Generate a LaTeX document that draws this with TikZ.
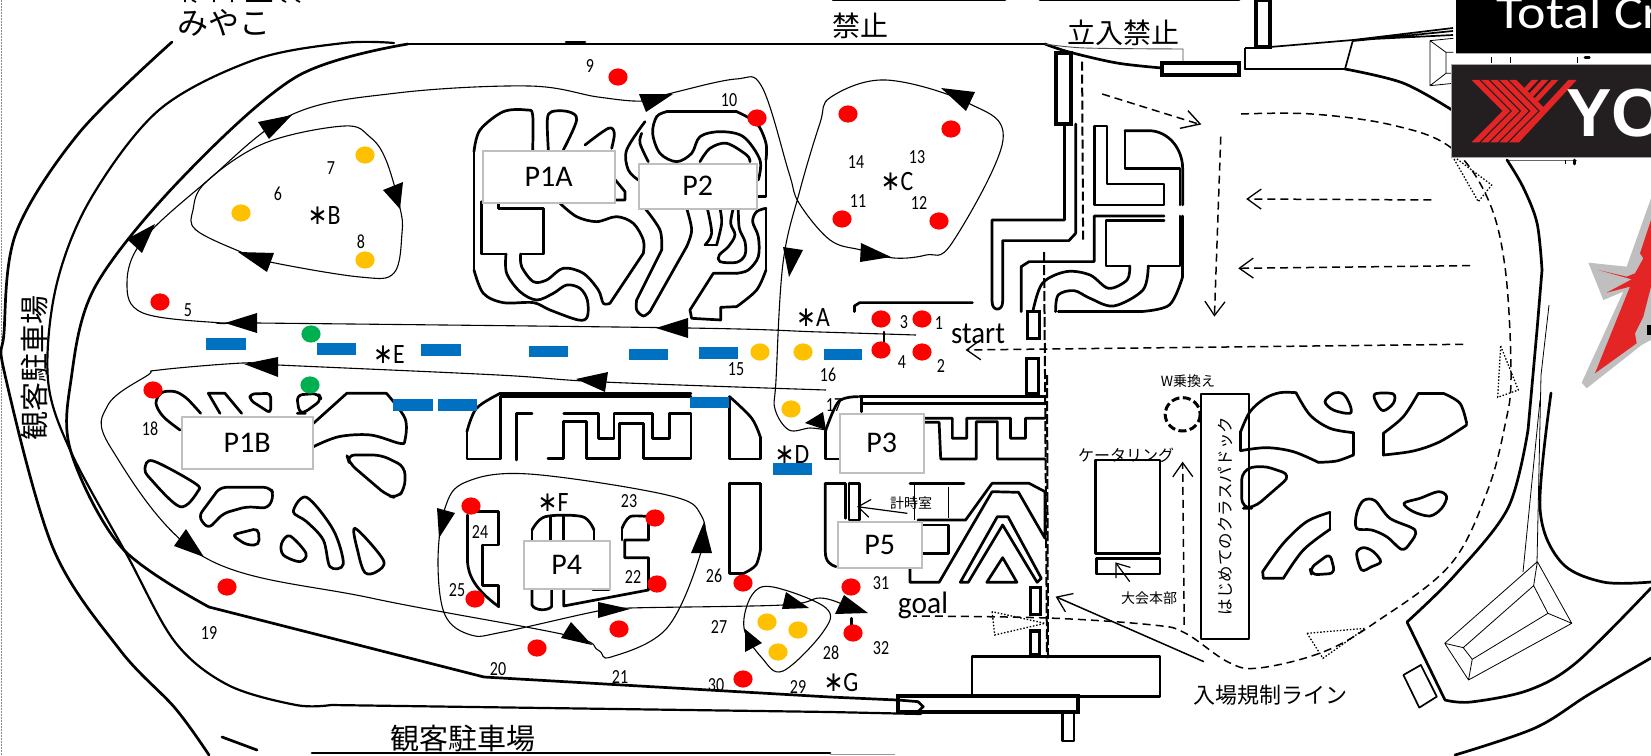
\documentclass[tikz,border=0pt]{standalone}
\usepackage{graphicx}
\usepackage{fontspec}
\setmainfont{Carlito}
\newfontfamily\jp{Noto Sans CJK JP}
\newfontfamily\ls{Liberation Sans}
\newfontfamily\dv{DejaVu Sans}
\usetikzlibrary{arrows.meta}
\definecolor{redd}{HTML}{FF0000}
\definecolor{yel}{HTML}{FFC000}
\definecolor{grn}{HTML}{00B050}
\definecolor{blu}{HTML}{0070C0}
\definecolor{logored}{HTML}{E42525}
\definecolor{logodark}{HTML}{231F20}
\tikzset{
 zA/.style={x=0.5294pt,y=-0.3333pt},
 zB/.style={shift={(820,0)},x=0.5294pt,y=-0.3333pt},
 zC/.style={shift={(0,375)},x=0.5294pt,y=-0.3333pt},
 zD/.style={shift={(820,375)},x=0.5294pt,y=-0.3333pt},
 zE/.style={shift={(1420,0)},x=0.3333pt,y=-0.3333pt},
 zF/.style={shift={(1450,190)},x=0.3333pt,y=-0.3333pt},
 zG/.style={shift={(470,100)},x=0.3333pt,y=-0.3333pt},
 zH/.style={shift={(100,380)},x=0.3333pt,y=-0.3333pt},
 zI/.style={shift={(1200,380)},x=0.3333pt,y=-0.3333pt},
 trk/.style={line width=2.7pt,line join=round,line cap=round,black},
 hvy/.style={line width=3.2pt,line join=miter,black},
 med/.style={line width=1.7pt,line join=round,black},
 thn/.style={line width=0.8pt,line join=round,black},
 flow/.style={line width=1.1pt,black},
 dsh/.style={line width=1.5pt,dash pattern=on 8pt off 5pt,black},
 barbhead/.style={-{Straight Barb[length=14pt,width=20pt,line width=1.3pt]}},
 dot/.style={line width=1.3pt,dash pattern=on 1.5pt off 1.8pt,black},
 pbox/.style={draw=black!25,line width=1.5pt,fill=white},
}
\newcommand\tr[1]{\draw[trk] plot[smooth,tension=.55] coordinates {#1};}
\newcommand\trc[1]{\draw[trk] plot[smooth cycle,tension=.55] coordinates {#1};}
\newcommand\fl[1]{\draw[flow] plot[smooth,tension=.6] coordinates {#1};}
\newcounter{lc}
\newcommand\lb[3]{\stepcounter{lc}\node[inner sep=0pt] (l\thelc) at (#1,#2) {#3};}
\newcommand\nm[3]{\lb{#1}{#2}{\scalebox{.8}[1]{\fontsize{20}{20}\selectfont #3}}}
\newcommand\stl[3]{\lb{#1}{#2}{\scalebox{.85}[1]{\fontsize{28}{28}\selectfont{\dv ∗}#3}}}
\newcommand\jt[4]{\lb{#1}{#2}{\fontsize{#3}{#3}\selectfont\jp #4}}
\newcommand\Dotm[3]{\fill[#1] (#2,#3) ellipse [x radius=9.6pt,y radius=8.6pt];}
\newcommand\bbar[4]{\fill[blu] (#1,#2) rectangle (#3,#4);}
\newcommand\tri[6]{\fill[black] (#1,#2)--(#3,#4)--(#5,#6)--cycle;}
\newcommand\pb[6]{\node[pbox,inner sep=0pt,anchor=north west,minimum width=#3pt-#1pt,minimum height=#4pt-#2pt] (#5) at (#1,#2) {\fontsize{30}{30}\selectfont #6};}
\begin{document}
\begin{tikzpicture}[x=1pt,y=-1pt]
\useasboundingbox (0,0) rectangle (1651,755);
\clip (0,0) rectangle (1651,755);
\fill[white] (0,0) rectangle (1651,755);
\draw[black!45,line width=.6pt,dash pattern=on 1.5pt off 1.5pt] (1,0)--(1,755);
% cut-off text at top edge
\draw[line width=1.6pt] (185,0)--(185,2) (192,0)--(196,2) (214,0)--(214,2) (232,0)--(232,2) (246,1)--(272,1) (282,0)--(286,2) (296,0)--(300,2);
% outer roads
\tr{(172,42)(79,133)(16,233)(4,333)(5,375)(53,548)(120,650)(175,708)(209,755)}
\draw[trk,line width=2.2pt] plot[smooth,tension=.55] coordinates {(394,43)(344,43)(254,60)(159,110)(90,200)(56,287)(48,380)(71,452)(127,555)(175,642)(228,685)(296,705)(331,705)} -- (830,712) -- (921,714);
\draw[trk] plot[smooth,tension=.55] coordinates {(408,44)(296,77)(180,180)(95,287)(71,380)(71,452)(122,548)(209,607)} -- (484,677) -- (830,697) -- (897,700);
\draw[trk] (408,44) -- (1045,44);
\tr{(1045,44)(1069,52)(1117,63)(1162,68)}
\draw[black!70,line width=.9pt] plot[smooth,tension=.5] coordinates {(1045,44)(1085,48)(1183,49)} -- (1183,63);
\draw[trk] (566,42)--(585,42);
\draw[trk] (833,0)--(1005,0) (1040,0)--(1239,0);
\draw[hvy] (1162,63) rectangle (1239,75);
\draw[hvy] (1056,53) rectangle (1071,124);
\draw[hvy] (1256,0) rectangle (1270,47);
\draw[med] (1270,47)--(1353,40)--(1453,28) (1353,40)--(1453,35) (1353,41)--(1453,31);
\draw[med] (1245,48)--(1270,48) (1245,48)--(1245,69);
\draw[trk] (1245,69)--(1345,69);
\draw[med] (1345,69)--(1353,40);
\tr{(1345,69)(1403,83)(1452,110)}
\draw[trk] (312,753)--(830,753);
\draw[black!40,line width=1pt] (830,754)--(895,754);
\draw[trk] (222,737)--(257,750);
\begin{scope}[zE]
\draw[thn] (30,122)--(100,115) (30,122)--(30,257)--(100,250) (30,122)--(78,157)--(78,220)--(30,257) (78,157)--(100,157) (78,220)--(100,220);
\draw[thn] (215,172)--(215,188) (272,172)--(272,188) (472,172)--(472,188);
\draw[trk] (495,172)--(508,172);
\draw[black!60,thin] (258,480)--(470,480);
\draw[thn] (435,480)--(435,492);
\draw[trk] (463,480)--(463,492);
\end{scope}
% right side lines
\tr{(1507,160)(1523,187)(1537,223)(1542,270)}
\draw[trk] (1542,270)--(1537,330)--(1528,430);
\tr{(1528,430)(1508,508)(1455,575)(1407,622)}
\draw[thn] (1549,305)--(1541,375)--(1537,562);
\draw[thn] (1540,400)--(1523,572);
\tr{(1551,393)(1540,508)(1561,562)(1603,582)(1651,582)}
\draw[trk] (1407,622)--(1445,700);
\tr{(1445,700)(1471,702)(1529,690)(1577,662)(1651,588)}
\tr{(1455,755)(1535,728)(1588,695)(1651,658)}
\begin{scope}[zD]
\draw[thn] (1355,560)--(1420,745)--(1225,915)--(1180,805)--cycle (1348,632)--(1375,715)--(1232,853)--(1215,818)--cycle (1355,560)--(1348,632) (1420,745)--(1375,715) (1225,915)--(1232,853) (1180,805)--(1215,818);
\draw[med] (1102,900)--(1135,870)--(1165,965)--(1132,998)--cycle;
\end{scope}
% dashed right curve
\draw[dsh] plot[smooth,tension=.6] coordinates {(1241,114)(1312,114)(1392,125)(1450,147)(1487,197)(1505,267)(1511,375)(1505,425)(1487,492)(1450,565)(1376,622)(1323,652)(1259,668)(1228,662)(1185,633)(1153,625)(1048,618)(913,616)};
\begin{scope}[zD]
\draw[dot] (325,710)--(330,780)--(425,745)--cycle (920,775)--(1030,760)--(950,850)--cycle;
\draw[dsh,barbhead] (688,750)--(685,260);
\draw[line width=1.5pt,barbhead] (725,860)--(445,665);
\draw[line width=1.2pt,-{Straight Barb[length=12pt,width=18pt,line width=1.2pt]}] (165,415)--(70,395);
\draw[line width=1.2pt,-{Straight Barb[length=12pt,width=18pt,line width=1.2pt]}] (585,620)--(558,562);
\end{scope}
\begin{scope}[zE]\draw[dot] (95,465)--(215,555)--(175,605)--cycle;\end{scope}
\begin{scope}[zF]\draw[dot] (152,468)--(205,600)--(143,622)--cycle;\end{scope}
% center right track
\begin{scope}[zB]
\draw[dsh] (533,282)--(715,372);
\draw[line width=1.4pt] (680,385)--(718,372)--(695,332);
\draw[dsh,barbhead] (1155,600)--(805,597);
\draw[dsh,barbhead] (1228,797)--(790,805);
\draw[dsh,barbhead] (757,410)--(745,950);
\draw[dsh,barbhead] (1215,1033)--(275,1050);
\draw[line width=2pt,dash pattern=on 9pt off 4pt] (495,185)--(497,730);
\draw[trk] (462,372)--(462,660)--(325,660)--(325,905) (483,372)--(483,700) (483,700)--(470,722)--(345,722)--(345,905);
\draw[trk] (325,905) .. controls (325,935) and (345,935) .. (345,905);
\draw[trk] (518,378)--(542,378)--(542,552)--(650,552)--(650,615)--(518,615)--cycle;
\draw[trk] (576,392)--(576,505)--(680,505)--(680,615);
\draw[trk] (576,392)--(620,392) .. controls (660,392) and (685,450) .. (685,505)--(685,615);
\draw[trk] (650,648)--(518,648)--(518,785)--(395,785)--(380,800)--(380,935);
\draw[trk] (650,662)--(540,662)--(540,798)--(585,798);
\tr{(585,798)(580,840)(545,865)(510,825)(465,815)(420,850)(402,935)}
\draw[trk] (680,648)--(680,798)--(620,798);
\tr{(620,798)(610,870)(555,918)(510,895)(480,872)(450,885)(445,935)}
\draw[trk] (685,648)--(685,830);
\tr{(685,830)(660,915)(605,935)}
\draw[trk] (605,935)--(450,935);
\draw[trk] (65,935)--(65,918)--(75,908)--(288,908);
\draw[hvy] (392,935) rectangle (415,1015);
\draw[hvy] (390,1140)--(390,1075)--(413,1075)--(413,1140);
\end{scope}
\begin{scope}[zD]
\draw[hvy] (390,0)--(390,55)--(413,55)--(413,0);
\end{scope}
\draw[line width=2pt,dash pattern=on 10pt off 3pt] (1044,252)--(1045,375)--(1047,658);
% P1A / P2 tracks
\begin{scope}[zG]
\tr{(188,150)(188,45)(170,30)(100,35)(30,90)(12,155)}
\draw[trk] (12,155)--(12,510);
\tr{(12,510)(40,580)(100,608)(190,608)(240,630)(325,660)(352,650)(352,600)(330,565)(290,555)(250,580)(200,600)(150,575)(110,520)(108,462)}
\draw[trk] (108,462)--(35,462)--(35,305) (85,305)--(85,325)--(220,325)--(220,462)--(152,462);
\tr{(152,462)(155,500)(190,545)(230,540)(280,505)(340,520)(385,570)(400,610)(420,610)}
\draw[trk] (420,610)--(520,460);
\tr{(520,460)(520,420)(490,370)(440,350)(380,365)(320,350)(270,310)}
\tr{(235,150)(232,60)(245,35)(295,35)(320,60)(280,150)}
\tr{(345,135)(415,85)(433,100)(425,145)}
\draw[trk] (432,235)--(465,275)--(465,300)--(430,300);
\tr{(525,65)(470,150)(475,210)(505,240)}
\tr{(515,100)(510,130)(535,185)}
\draw[trk] (590,35)--(800,35);
\tr{(800,35)(860,70)(888,130)(888,180)}
\draw[trk] (888,180)--(888,290)--(860,290);
\tr{(590,35)(560,50)(548,100)(570,160)(620,185)(665,160)(690,110)(750,95)(820,110)(870,180)(865,240)}
\tr{(690,185)(720,145)(770,130)(830,165)(840,185)}
\tr{(525,325)(570,390)(575,450)}
\draw[trk] (575,450)--(500,600);
\tr{(500,600)(500,630)(520,648)(540,635)}
\draw[trk] (540,635)--(650,440);
\tr{(650,440)(665,390)(650,325)}
\tr{(712,325)(725,400)(705,435)}
\draw[trk] (705,435)--(740,435);
\tr{(740,435)(755,370)(750,325)}
\tr{(790,325)(782,370)(795,405)(775,440)(748,465)(750,485)(800,487)(825,465)(825,425)(808,385)(805,325)}
\draw[trk] (888,325)--(888,510);
\tr{(888,325)(860,335)(848,365)(865,410)(865,470)(835,510)(800,520)}
\draw[trk] (800,520)--(730,520)--(660,630)--(665,655)--(752,660)--(752,622)--(800,620);
\tr{(800,620)(860,570)(888,510)}
\end{scope}
% P1B tracks
\begin{scope}[zH]
\tr{(240,150)(190,110)(168,70)(185,38)(225,35)(260,55)(302,100)}
\draw[trk] (360,100)--(325,40)--(375,40)--(425,100);
\draw[trk,rounded corners=4pt] (512,100)--(450,60)--(450,42)--(512,40)--cycle;
\draw[trk,rounded corners=6pt] (598,100)--(590,45)--(655,40)--(665,60)--(610,100)--cycle;
\trc{(135,265)(160,243)(285,310)(293,335)(240,380)(150,295)}
\draw[trk,rounded corners=6pt] (360,322)--(510,322)--(522,345)--(505,385)--(440,380)--(370,400)--(325,447)--(295,410)--cycle;
\draw[trk,rounded corners=5pt] (395,465)--(475,445)--(478,495)--(440,495)--cycle;
\trc{(545,490)(570,468)(618,520)(600,545)(550,525)}
\trc{(580,395)(620,352)(700,450)(730,552)(690,560)(670,480)(620,425)}
\trc{(765,445)(850,540)(830,575)(795,578)(775,520)}
\end{scope}
\begin{scope}[zC]
\draw[trk] (592,145)--(655,55)--(730,55);
\tr{(730,55)(765,130)(765,195)(755,205)(700,180)(640,185)(592,215)}
\draw[trk,rounded corners=8pt] (655,240)--(720,240)--(765,275)--(765,340)--(750,370)--(730,360)--(660,265)--cycle;
% section D
\tr{(945,55)(900,100)(882,170)}
\draw[trk] (882,170)--(882,252)--(945,252)--(945,65)--(1305,65) (945,55)--(1305,55);
\draw[trk] (1005,115)--(975,115)--(975,255);
\draw[trk] (1035,250)--(1065,250)--(1065,140)--(1108,140)--(1108,250)--(1170,250)--(1170,145)--(1215,145)--(1215,250)--(1305,250)--(1305,115)--(1265,115)--(1265,190)--(1232,190)--(1232,115)--(1160,115)--(1160,190)--(1130,190)--(1130,115)--(1065,115);
\tr{(1378,65)(1420,130)(1437,190)}
\draw[trk] (1437,190)--(1437,252)--(1378,252)--(1378,65);
\draw[trk] (1378,325)--(1437,325)--(1437,520);
\tr{(1437,520)(1428,570)(1405,595)}
\draw[trk] (1405,595)--(1378,595)--(1378,325);
\draw[trk] (883,560) ..controls (885,600) and (895,640) .. (942,695);
\draw[trk] (883,420)--(883,560);
\draw[trk] (883,410)--(942,410)--(942,510)--(912,510)--(912,632)--(942,632)--(942,695);
\tr{(1005,465)(1030,425)(1100,425)(1122,465)}
\draw[trk] (1005,465)--(1005,495) (1122,465)--(1122,495) (1040,425)--(1040,495) (1065,425)--(1065,495);
\draw[trk] (1005,640)--(1005,690) (1042,640)--(1042,695) (1005,690)..controls (1010,708) and (1035,708) ..(1042,695);
\draw[trk] (1065,640)--(1065,693)--(1225,645)--(1225,548)--(1180,548)--(1180,495)--(1225,495)--(1225,425);
\tr{(1225,425)(1190,425)(1175,460)}
\draw[trk] (1175,460)--(1175,495);
\draw[trk] (1120,645)--(1150,645);
\end{scope}
\begin{scope}[zD]
\draw[trk] (10,325)--(48,325)--(48,430) (55,325)--(75,325)--(75,435)--(55,435)--(55,325);
\draw[trk] (10,325)--(10,530) .. controls (10,560) and (20,570) .. (30,575);
\tr{(72,65)(35,80)(10,170)}
\draw[trk] (10,170)--(10,252)--(35,252) (75,65)--(425,65) (78,85)--(425,85) (78,65)--(78,110);
\draw[trk] (190,142)--(225,142)--(228,252)--(295,252)--(295,140)--(335,140)--(335,252)--(425,252) (190,130)--(250,130)--(250,190)--(277,190)--(277,130)--(360,130)--(360,190)--(388,190)--(388,130)--(425,130);
\draw[trk] (170,325)--(272,325);
\draw[thn] (178,325)--(178,435) (243,335)--(243,430);
\draw[trk] (185,435)--(275,435)--(325,325)--(395,325)--(425,350)--(425,490)--(375,352)--(325,350)--(225,622)--(170,622)--(170,580);
\draw[trk] (190,450)--(243,450)--(243,535)--(190,535);
\draw[trk] (265,622)--(335,425)--(355,425)--(418,610)--(410,622)--(345,450)--(280,622)--cycle;
\draw[trk] (345,548)--(372,622)--(315,622)--cycle;
\draw[hvy] (397,637) rectangle (417,718);
\draw[hvy] (397,768) rectangle (415,840);
\draw[trk] (287,965)--(287,845)--(642,845)--(642,965)--(287,965);
\draw[line width=3.8pt] (147,962)--(488,962)--(488,1010)--(147,1010)--cycle;
\draw[trk] (147,975)--(185,980)--(195,995)--(185,1010);
\draw[trk] (458,1012)--(458,1098)--(480,1098)--(480,1012);
\draw[trk] (60,730)--(60,755);
\draw[med] (720,57)--(810,57)--(810,792)--(720,792)--cycle;
\draw[trk] (520,255)--(642,255)--(642,535)--(520,535)--cycle;
\draw[trk] (522,550)--(642,550)--(642,597)--(522,597)--cycle;
\draw[line width=3pt,dash pattern=on 8pt off 3.5pt] (718,118) arc[start angle=0,end angle=360,x radius=33,y radius=50];
\end{scope}
\draw[line width=2pt,dash pattern=on 10pt off 3pt] (1047,375)--(1048,658);
% right paddock
\begin{scope}[zI]
\draw[trk] (122,212)--(122,155);
\tr{(122,155)(150,95)(195,55)(240,38)(288,38)}
\tr{(288,38)(330,105)(390,145)(460,158)}
\draw[trk] (460,158)--(460,225);
\tr{(460,225)(410,243)(355,247)}
\tr{(355,247)(280,215)(200,203)(122,212)}
\trc{(375,65)(400,40)(430,42)(450,75)(450,100)(400,90)}
\trc{(525,42)(580,42)(580,70)(550,92)(530,70)}
\draw[trk] (655,40)--(730,40);
\tr{(730,40)(780,70)(800,130)}
\tr{(800,135)(720,185)(640,213)(550,225)}
\draw[trk] (550,225)--(550,160);
\tr{(550,160)(610,110)(655,40)}
\draw[trk,rounded corners=10pt] (125,270)--(185,255)--(275,285)--(160,385)--(125,385)--cycle;
\trc{(470,445)(470,400)(490,362)(525,362)(570,415)(645,450)(630,490)(605,508)(560,470)(515,450)}
\trc{(612,370)(660,355)(715,335)(740,350)(725,385)(690,408)(640,395)}
\draw[trk] (390,397)--(390,448);
\tr{(390,448)(310,510)(250,595)}
\draw[trk] (250,595)--(190,595)--(188,575);
\tr{(188,575)(250,490)(320,425)(390,397)}
\draw[trk,rounded corners=6pt] (390,520)--(405,580)--(335,585)--(330,565)--cycle;
\trc{(470,520)(490,503)(520,515)(542,545)(515,560)(485,570)}
\end{scope}
% flows
\fl{(916,335)(820,332)(688,328)(257,323)(222,323)(143,313)(127,283)(143,240)(206,182)(291,115)(397,93)(529,86)(598,97)(643,101)(672,93)(736,79)(762,87)(789,173)(799,203)(830,240)(861,250)(894,258)(926,255)(952,243)(1003,140)(968,103)(886,80)(831,97)(820,123)(800,190)(783,263)(776,380)(775,409)(789,430)(810,428)(826,430)}
\draw[flow] plot[smooth cycle,tension=.6] coordinates {(270,262)(360,277)(394,273)(402,233)(400,208)(386,160)(370,137)(344,126)(265,143)(206,182)(193,210)(196,230)(241,252)};
\fl{(826,390)(603,382)(498,375)(278,365)(243,363)(159,370)(148,375)(108,405)(111,448)(204,557)(371,598)(566,635)(598,650)(611,657)(667,628)(701,552)(701,515)(667,495)(529,474)(466,482)(445,508)(438,562)(445,615)(471,635)(503,632)(598,611)(630,608)(783,605)(820,598)(844,605)}
\draw[flow] plot[smooth cycle,tension=.6] coordinates {(744,628)(752,595)(773,587)(826,608)(823,632)(783,671)(762,658)};
\tri{639}{94}{673}{94}{646}{112}
\tri{258}{122}{292}{115}{269}{139}
\tri{403}{182}{400}{209}{383}{190}
\tri{127}{239}{155}{224}{142}{253}
\tri{238}{252}{274}{253}{267}{272}
\tri{225}{323}{257}{313}{257}{333}
\tri{656}{328}{688}{318}{688}{338}
\tri{244}{364}{278}{357}{278}{377}
\tri{576}{379}{608}{372}{605}{392}
\tri{783}{247}{803}{250}{789}{277}
\tri{941}{88}{975}{92}{966}{111}
\tri{861}{243}{891}{257}{860}{262}
\tri{805}{423}{823}{412}{826}{430}
\tri{186}{529}{204}{557}{174}{546}
\tri{437}{508}{455}{513}{439}{538}
\tri{704}{522}{712}{553}{691}{553}
\tri{598}{602}{630}{609}{598}{618}
\tri{571}{622}{592}{645}{561}{638}
\tri{786}{592}{809}{608}{782}{609}
\tri{745}{629}{762}{643}{745}{652}
\tri{835}{614}{868}{613}{844}{595}
\draw[trk] (884,332)--(884,343);
% bars
\bbar{206}{338}{246}{350}\bbar{317}{343}{356}{355}\bbar{421}{344}{461}{356}\bbar{529}{346}{568}{357}\bbar{629}{349}{668}{360}\bbar{699}{347}{738}{359}\bbar{824}{349}{862}{360}
\bbar{393}{399}{433}{411}\bbar{438}{399}{477}{411}\bbar{690}{397}{729}{408}\bbar{773}{463}{812}{475}
% dots
\foreach \a/\b in {618/77,757/118,160/302,848/114,951/129,842/219,939/221,881/319,922/319,881/350,922/352,153/390,227/587,471/506,655/518,475/599,657/584,619/629,537/648,743/583,743/679,851/587,853/633}{\Dotm{redd}{\a}{\b}}
\foreach \a/\b in {365/155,241/213,365/260,760/352,803/352,791/409,767/622,798/630,778/652}{\Dotm{yel}{\a}{\b}}
\foreach \a/\b in {311/334,310/385}{\Dotm{grn}{\a}{\b}}
% P boxes
\pb{482}{150}{614}{202}{P1A}{P1A}
\pb{638}{163}{756}{208}{P2}{P2}
\pb{181}{416}{312}{468}{P1B}{P1B}
\pb{839}{413}{923}{472}{P3}{P3}
\pb{523}{540}{609}{588}{P4}{P4}
\pb{837}{521}{921}{567}{P5}{P5}
% labels
\nm{590}{66}{9}\nm{729}{100}{10}\nm{188}{310}{5}\nm{331}{168}{7}\nm{278}{194}{6}\nm{361}{242}{8}\nm{736}{369}{15}\nm{828}{375}{16}
\nm{856}{162}{14}\nm{917}{157}{13}\nm{858}{201}{11}\nm{919}{203}{12}\nm{904}{322}{3}\nm{939}{323}{1}\nm{902}{362}{4}\nm{941}{366}{2}
\nm{150}{429}{18}\nm{480}{532}{24}\nm{629}{501}{23}\nm{633}{577}{22}\nm{457}{590}{25}\nm{714}{576}{26}\nm{719}{627}{27}\nm{831}{653}{28}\nm{798}{687}{29}\nm{716}{685}{30}\nm{209}{633}{19}\nm{498}{669}{20}\nm{620}{677}{21}\nm{881}{583}{31}\nm{881}{648}{32}\nm{834}{405}{17}
\stl{324}{216}{B}\stl{389}{355}{E}\stl{813}{318}{A}\stl{897}{182}{C}\stl{792}{455}{D}\stl{553}{503}{F}\stl{841}{682}{G}
\lb{978}{334}{\scalebox{.93}[1]{\fontsize{31}{31}\selectfont start}}
\lb{923}{605}{\scalebox{.95}[1]{\fontsize{31}{31}\selectfont goal}}
\jt{224}{23}{31}{みやこ}
\jt{860}{26}{28}{禁止}
\jt{1123}{33}{28}{立入禁止}
\jt{463}{738}{29}{観客駐車場}
\stepcounter{lc}\node[inner sep=0pt,rotate=90,font=\fontsize{29}{29}\selectfont\jp] (l\thelc) at (34,368) {観客駐車場};
\jt{1188}{381}{14}{W乗換え}
\jt{1126}{455}{16}{ケータリング}
\jt{1149}{598}{14}{大会本部}
\jt{911}{503}{14}{計時室}
\jt{1270}{695}{22}{入場規制ライン}
\stepcounter{lc}\node[inner sep=0pt,rotate=90,font=\fontsize{16.5}{16.5}\selectfont\jp] (l\thelc) at (1225,516) {はじめてのクラスパドック};
% logos
\fill[black] (1456,0) rectangle (1651,53);
\draw[black!35,line width=.8pt] (1456,53)--(1651,53);
\stepcounter{lc}\node[inner sep=0pt,anchor=base west,text=white,font=\fontsize{47}{47}\selectfont] (l\thelc) at (1496,28) {\scalebox{1.15}[1]{Total Cr}};
\fill[logodark] (1451,64) rectangle (1651,157);
\draw[black!35,line width=.8pt] (1651,64)--(1451,64)--(1451,157)--(1651,157);
\begin{scope}[zE]
\foreach \i in {0,28,56,84}{\fill[logored] (155+\i,240)--(177+\i,240)--(270+\i,333)--(177+\i,427)--(155+\i,427)--(248+\i,333)--cycle;}
\fill[logored] (267,240)--(289,240)--(382,333)--(360,333)--cycle;
\fill[logored] (335,240)--(355,240)--(323,274)--(313,264)--cycle;
\fill[logored] (365,240)--(385,240)--(339,290)--(329,279)--cycle;
\fill[logored] (395,240)--(415,240)--(354,305)--(344,295)--cycle;
\fill[logored] (445,240)--(470,240)--(297,427)--(267,427)--(360,333)--(370,321)--cycle;
\end{scope}
\stepcounter{lc}\node[inner sep=0pt,anchor=base west,text=white,font=\fontsize{68}{68}\selectfont\ls\bfseries] (l\thelc) at (1566,136) {YO};
% star
\begin{scope}[zF]
\fill[black!25] (603,25)--(530,230)--(415,218)--(460,330)--(520,305)--(395,578)--(410,595)--(575,465)--(603,450)--(620,450)--(620,25)--cycle;
\fill[logored] (603,90)--(570,190)--(580,205)--(555,250)--(530,260)--(445,240)--(545,268)--(470,308)--(540,290)--(435,550)--(560,460)--(555,430)--(580,380)--(603,290)--cycle;
\fill[black] (590,405) rectangle (603,435);
\end{scope}
\end{tikzpicture}
\end{document}
